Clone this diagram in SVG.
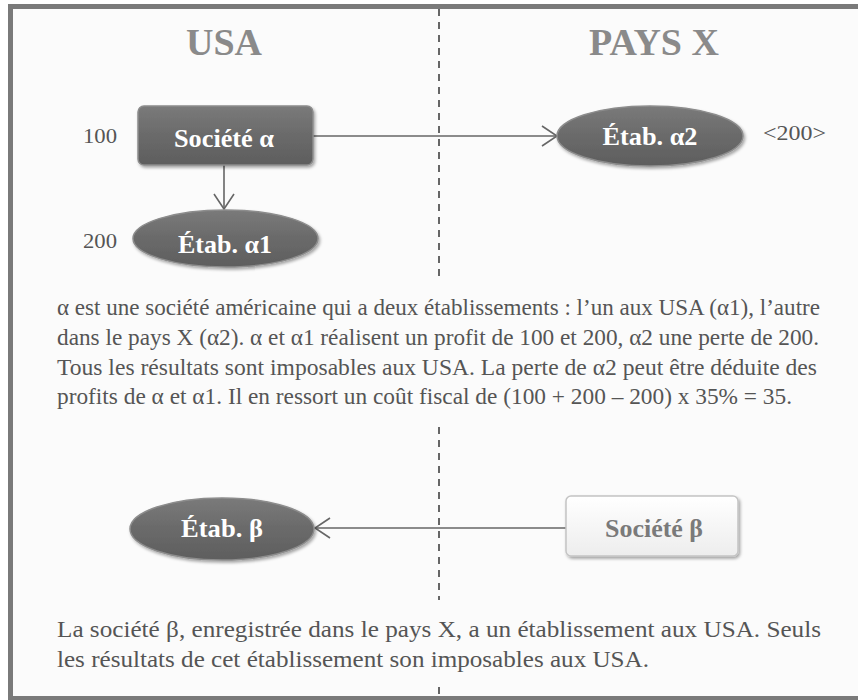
<svg xmlns="http://www.w3.org/2000/svg" width="858" height="700" viewBox="0 0 858 700">
<style>
.hdr{font-family:"Liberation Serif","DejaVu Serif",serif;font-weight:bold;font-size:38px;fill:#8a8a8a;text-anchor:middle}
.nl{font-family:"Liberation Serif","DejaVu Serif",serif;font-weight:bold;font-size:25px;fill:#ffffff;text-anchor:middle}
.nlg{font-family:"Liberation Serif","DejaVu Serif",serif;font-weight:bold;font-size:25px;fill:#7a7a7a;text-anchor:middle}
.side{font-family:"Liberation Serif","DejaVu Serif",serif;font-size:22px;fill:#555555}
.p{font-family:"Liberation Serif","DejaVu Serif",serif;font-size:22.5px;fill:#555555}
.dark{fill:url(#gd);stroke:#8c8c8c;stroke-width:1.5}
.light{fill:url(#gl);stroke:#c4c4c4;stroke-width:1.5}
.conn{stroke:#666666;stroke-width:1.6;fill:none}
.dash{stroke:#666666;stroke-width:2;stroke-dasharray:7 6;fill:none}
</style>
<defs>
<linearGradient id="gd" x1="0" y1="0" x2="0" y2="1">
<stop offset="0" stop-color="#7a7a7a"/>
<stop offset="0.5" stop-color="#6a6a6a"/>
<stop offset="1" stop-color="#5e5e5e"/>
</linearGradient>
<linearGradient id="gl" x1="0" y1="0" x2="0" y2="1">
<stop offset="0" stop-color="#ffffff"/>
<stop offset="1" stop-color="#ededed"/>
</linearGradient>
<filter id="sh" x="-10%" y="-10%" width="125%" height="135%">
<feDropShadow dx="1.5" dy="2" stdDeviation="1.5" flood-color="#000" flood-opacity="0.35"/>
</filter>
<marker id="v" markerWidth="18" markerHeight="22" refX="16" refY="11" orient="auto" markerUnits="userSpaceOnUse">
<path d="M1,1 L16,11 L1,21" fill="none" stroke="#666666" stroke-width="1.6"/>
</marker>
</defs>
<rect x="0" y="0" width="858" height="700" fill="#ffffff"/>
<rect x="10.5" y="6.5" width="860" height="692" fill="#fbfbfb" stroke="#7a7a7a" stroke-width="5"/>

<g id="dividers">
<line class="dash" x1="439" y1="9" x2="439" y2="278"/>
<line class="dash" x1="439" y1="427" x2="439" y2="600"/>
<line class="dash" x1="439" y1="687" x2="439" y2="697"/>
</g>

<text class="hdr" x="224" y="55">USA</text>
<text class="hdr" x="654" y="55">PAYS X</text>

<g id="connectors">
<line class="conn" x1="224" y1="165" x2="224" y2="209" marker-end="url(#v)"/>
<line class="conn" x1="313" y1="136" x2="557" y2="136" marker-end="url(#v)"/>
<line class="conn" x1="566" y1="528" x2="315" y2="528" marker-end="url(#v)"/>
</g>

<g id="societe-alpha">
<rect class="dark" x="138" y="106" width="175" height="59" rx="6" filter="url(#sh)"/>
<text class="nl" x="224" y="147" textLength="100" lengthAdjust="spacingAndGlyphs">Société α</text>
</g>
<text class="side" x="83" y="143" textLength="34" lengthAdjust="spacingAndGlyphs">100</text>

<g id="etab-alpha1">
<ellipse class="dark" cx="225.5" cy="238.5" rx="92.5" ry="28.5" filter="url(#sh)"/>
<text class="nl" x="225" y="253" textLength="94" lengthAdjust="spacingAndGlyphs">Étab. α1</text>
</g>
<text class="side" x="83" y="248" textLength="34" lengthAdjust="spacingAndGlyphs">200</text>

<g id="etab-alpha2">
<ellipse class="dark" cx="650" cy="136" rx="93" ry="30" filter="url(#sh)"/>
<text class="nl" x="650" y="145" textLength="95" lengthAdjust="spacingAndGlyphs">Étab. α2</text>
</g>
<text class="side" x="763" y="140" textLength="63" lengthAdjust="spacingAndGlyphs">&lt;200&gt;</text>

<g id="text1">
<text class="p" x="57" y="315" textLength="763" lengthAdjust="spacingAndGlyphs">α est une société américaine qui a deux établissements : l’un aux USA (α1), l’autre</text>
<text class="p" x="57" y="345" textLength="762" lengthAdjust="spacingAndGlyphs">dans le pays X (α2). α et α1 réalisent un profit de 100 et 200, α2 une perte de 200.</text>
<text class="p" x="57" y="375" textLength="760" lengthAdjust="spacingAndGlyphs">Tous les résultats sont imposables aux USA. La perte de α2 peut être déduite des</text>
<text class="p" x="57" y="404" textLength="735" lengthAdjust="spacingAndGlyphs">profits de α et α1. Il en ressort un coût fiscal de (100 + 200 – 200) x 35% = 35.</text>
</g>

<g id="etab-beta">
<ellipse class="dark" cx="222" cy="529" rx="92" ry="31" filter="url(#sh)"/>
<text class="nl" x="222" y="537" textLength="82" lengthAdjust="spacingAndGlyphs">Étab. β</text>
</g>

<g id="societe-beta">
<rect class="light" x="566" y="496" width="172" height="60" rx="5" filter="url(#sh)"/>
<text class="nlg" x="654" y="537" textLength="98" lengthAdjust="spacingAndGlyphs">Société β</text>
</g>

<g id="text2">
<text class="p" x="57" y="637" textLength="764" lengthAdjust="spacingAndGlyphs">La société β, enregistrée dans le pays X, a un établissement aux USA. Seuls</text>
<text class="p" x="57" y="667" textLength="592" lengthAdjust="spacingAndGlyphs">les résultats de cet établissement son imposables aux USA.</text>
</g>
</svg>
